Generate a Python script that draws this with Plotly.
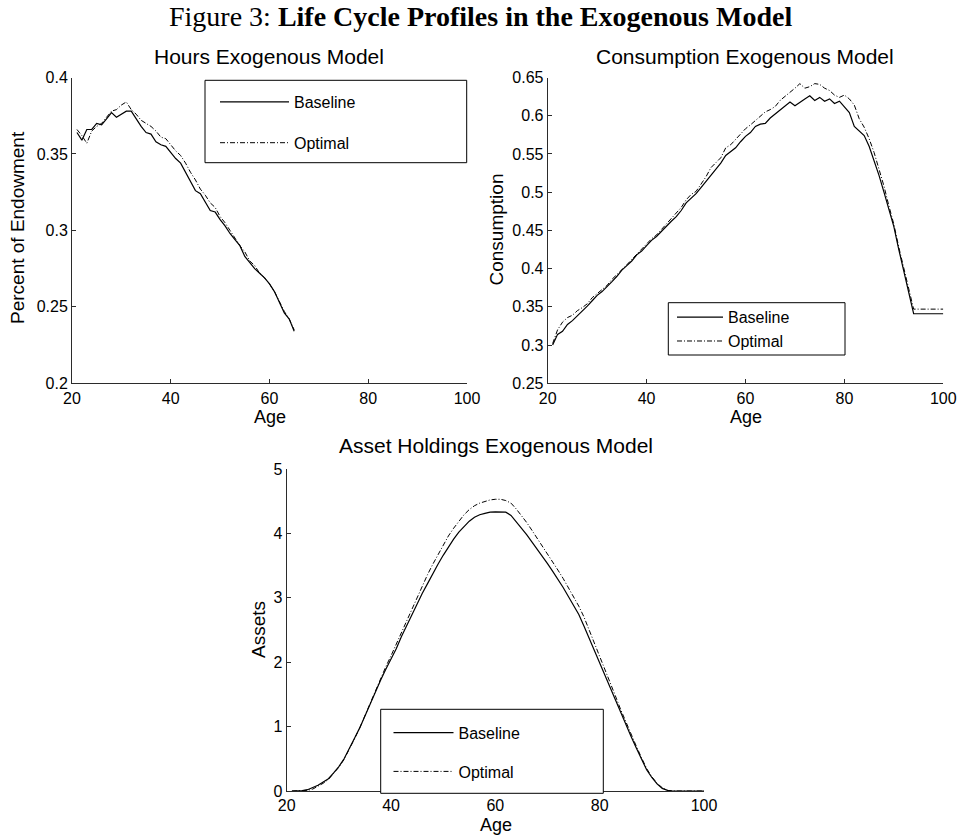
import plotly.graph_objects as go

# ---------------- data ----------------
hours_age = list(range(21, 66))
hours_baseline = [0.364, 0.359, 0.366, 0.366, 0.370, 0.369, 0.373, 0.377, 0.374, 0.376,
                  0.378, 0.378, 0.373, 0.368, 0.364, 0.363, 0.358, 0.356, 0.355, 0.351,
                  0.347, 0.344, 0.338, 0.331, 0.326, 0.324, 0.318, 0.313, 0.312, 0.307,
                  0.303, 0.298, 0.294, 0.290, 0.283, 0.279, 0.275, 0.272, 0.269, 0.265,
                  0.260, 0.253, 0.246, 0.242, 0.234]
hours_optimal = [0.366, 0.362, 0.357, 0.365, 0.368, 0.370, 0.374, 0.378, 0.379, 0.382,
                 0.384, 0.379, 0.376, 0.372, 0.370, 0.368, 0.365, 0.361, 0.360, 0.356,
                 0.352, 0.349, 0.344, 0.338, 0.333, 0.327, 0.323, 0.318, 0.315, 0.309,
                 0.305, 0.300, 0.295, 0.290, 0.286, 0.280, 0.277, 0.272, 0.269, 0.265,
                 0.260, 0.253, 0.247, 0.242, 0.235]

life_age = list(range(21, 101))
cons_baseline = [0.300, 0.314, 0.318, 0.327, 0.332, 0.338, 0.344, 0.351, 0.358, 0.365,
                 0.370, 0.376, 0.383, 0.390, 0.398, 0.404, 0.410, 0.418, 0.423, 0.430,
                 0.437, 0.442, 0.449, 0.456, 0.462, 0.468, 0.476, 0.486, 0.492, 0.498,
                 0.506, 0.514, 0.522, 0.530, 0.538, 0.548, 0.553, 0.558, 0.566, 0.573,
                 0.578, 0.586, 0.589, 0.590, 0.597, 0.602, 0.608, 0.613, 0.618, 0.613,
                 0.618, 0.622, 0.626, 0.620, 0.624, 0.619, 0.622, 0.616, 0.619, 0.612,
                 0.604, 0.586, 0.580, 0.574, 0.560, 0.542, 0.522, 0.500, 0.476, 0.455,
                 0.425, 0.398, 0.372, 0.341, 0.341, 0.341, 0.341, 0.341, 0.341, 0.341]
cons_optimal = [0.302, 0.320, 0.330, 0.336, 0.339, 0.345, 0.349, 0.354, 0.362, 0.367,
                0.372, 0.378, 0.386, 0.392, 0.399, 0.405, 0.412, 0.419, 0.425, 0.432,
                0.439, 0.444, 0.451, 0.458, 0.465, 0.472, 0.480, 0.490, 0.497, 0.501,
                0.511, 0.520, 0.532, 0.538, 0.545, 0.558, 0.562, 0.569, 0.576, 0.583,
                0.588, 0.594, 0.600, 0.605, 0.608, 0.612, 0.620, 0.625, 0.630, 0.636,
                0.642, 0.636, 0.638, 0.642, 0.641, 0.636, 0.633, 0.627, 0.624, 0.627,
                0.622, 0.614, 0.596, 0.585, 0.570, 0.552, 0.530, 0.508, 0.482, 0.458,
                0.428, 0.400, 0.373, 0.347, 0.347, 0.347, 0.347, 0.347, 0.347, 0.347]

assets_baseline = [0.0, 0.0, 0.005, 0.02, 0.05, 0.09, 0.14, 0.19, 0.28, 0.38,
                   0.50, 0.65, 0.82, 0.98, 1.17, 1.36, 1.54, 1.72, 1.89, 2.05,
                   2.21, 2.40, 2.57, 2.73, 2.90, 3.07, 3.22, 3.38, 3.52, 3.66,
                   3.79, 3.91, 4.02, 4.11, 4.19, 4.25, 4.29, 4.31, 4.33, 4.335,
                   4.337, 4.33, 4.28, 4.18, 4.09, 3.98, 3.87, 3.76, 3.65, 3.53,
                   3.41, 3.29, 3.16, 3.02, 2.88, 2.74, 2.56, 2.37, 2.18, 2.00,
                   1.80, 1.60, 1.41, 1.21, 1.02, 0.85, 0.67, 0.50, 0.33, 0.21,
                   0.11, 0.04, 0.01, 0.0, 0.0, 0.0, 0.0, 0.0, 0.0, 0.0]
assets_optimal = [0.0, 0.0, 0.0, 0.01, 0.03, 0.07, 0.12, 0.18, 0.27, 0.37,
                  0.49, 0.64, 0.81, 0.98, 1.17, 1.37, 1.56, 1.75, 1.93, 2.10,
                  2.28, 2.47, 2.66, 2.84, 3.02, 3.20, 3.36, 3.52, 3.67, 3.82,
                  3.96, 4.08, 4.19, 4.29, 4.37, 4.43, 4.47, 4.50, 4.52, 4.53,
                  4.53, 4.51, 4.47, 4.38, 4.28, 4.17, 4.05, 3.93, 3.81, 3.69,
                  3.56, 3.43, 3.30, 3.16, 3.01, 2.87, 2.70, 2.50, 2.30, 2.11,
                  1.90, 1.69, 1.48, 1.27, 1.07, 0.88, 0.70, 0.52, 0.35, 0.22,
                  0.12, 0.05, 0.01, 0.0, 0.0, 0.0, 0.0, 0.0, 0.0, 0.0]

age_ticks = [20, 40, 60, 80, 100]
age_tick_labels = ["20", "40", "60", "80", "100"]
hours_ticks = [0.2, 0.25, 0.3, 0.35, 0.4]
hours_tick_labels = ["0.2", "0.25", "0.3", "0.35", "0.4"]
cons_ticks = [0.25, 0.3, 0.35, 0.4, 0.45, 0.5, 0.55, 0.6, 0.65]
cons_tick_labels = ["0.25", "0.3", "0.35", "0.4", "0.45", "0.5", "0.55", "0.6", "0.65"]
asset_ticks = [0, 1, 2, 3, 4, 5]
asset_tick_labels = ["0", "1", "2", "3", "4", "5"]

# ---------------- layout helpers ----------------
W, H = 959, 836
SANS = "Liberation Sans, Arial, sans-serif"
AX = "#2b2b2b"


def px(x):
    return x / W


def py(y):
    return 1 - y / H


DASHDOT = "5px,2px,1px,2px"

fig = go.Figure()

panels = [
    ("x", "y", hours_age, hours_baseline, hours_optimal, "legend"),
    ("x2", "y2", life_age, cons_baseline, cons_optimal, "legend2"),
    ("x3", "y3", life_age, assets_baseline, assets_optimal, "legend3"),
]
for xa, ya, ages, base, opt, leg in panels:
    fig.add_trace(go.Scatter(x=ages, y=base, mode="lines", name="Baseline",
                             line=dict(color="black", width=1.2),
                             xaxis=xa, yaxis=ya, legend=leg, legendgroup=leg + "a"))
    fig.add_trace(go.Scatter(x=ages, y=opt, mode="lines", name="Optimal",
                             line=dict(color="black", width=1.0, dash=DASHDOT),
                             xaxis=xa, yaxis=ya, legend=leg, legendgroup=leg + "b"))

axis_common = dict(showline=True, linecolor=AX, linewidth=1, ticks="inside",
                   ticklen=4, tickcolor=AX, showgrid=False, zeroline=False,
                   mirror=False, automargin=False,
                   tickfont=dict(family=SANS, size=16, color="black"))

layout = dict(
    template="none",
    width=W, height=H, margin=dict(l=0, r=0, t=0, b=0, pad=0),
    paper_bgcolor="white", plot_bgcolor="white",
    xaxis=dict(domain=[px(72), px(467)], range=[20, 100], anchor="y",
               tickvals=age_ticks, ticktext=age_tick_labels, **axis_common),
    yaxis=dict(domain=[py(383.3), py(77.5)], range=[0.2, 0.4], anchor="x",
               tickvals=hours_ticks, ticktext=hours_tick_labels, **axis_common),
    xaxis2=dict(domain=[px(547.7), px(943.3)], range=[20, 100], anchor="y2",
                tickvals=age_ticks, ticktext=age_tick_labels, **axis_common),
    yaxis2=dict(domain=[py(383.3), py(77.5)], range=[0.25, 0.65], anchor="x2",
                tickvals=cons_ticks, ticktext=cons_tick_labels, **axis_common),
    xaxis3=dict(domain=[px(286.7), px(704)], range=[20, 100], anchor="y3",
                tickvals=age_ticks, ticktext=age_tick_labels, **axis_common),
    yaxis3=dict(domain=[py(791), py(469)], range=[0, 5], anchor="x3",
                tickvals=asset_ticks, ticktext=asset_tick_labels, **axis_common),
    showlegend=True,
)

legend_common = dict(bgcolor="rgba(0,0,0,0)", borderwidth=0,
                     font=dict(family=SANS, size=16, color="black"),
                     xanchor="left", yanchor="top", orientation="v")
layout["legend"] = dict(x=px(215), y=py(85), itemwidth=69, tracegroupgap=17, **legend_common)
layout["legend2"] = dict(x=px(672), y=py(300.3), itemwidth=46, tracegroupgap=0, **legend_common)
layout["legend3"] = dict(x=px(388.5), y=py(715.7), itemwidth=60, tracegroupgap=15, **legend_common)

fig.update_layout(**layout)

# legend boxes
for x0, y0, x1, y1 in [(205, 80.3, 466.7, 162.7), (668.3, 302.7, 845, 355),
                       (380.7, 709.3, 603.3, 793.3)]:
    fig.add_shape(type="rect", xref="paper", yref="paper",
                  x0=px(x0), x1=px(x1), y0=py(y1), y1=py(y0),
                  line=dict(color="black", width=1), fillcolor="white", layer="above")

# figure title (anchored at the top edge so it is not clipped)
fig.add_annotation(text="Figure 3: <b>Life Cycle Profiles in the Exogenous Model</b>",
                   x=px(480), y=1, xref="paper", yref="paper",
                   xanchor="center", yanchor="top", showarrow=False, borderpad=0,
                   font=dict(family="Liberation Serif, Times New Roman, serif",
                             size=28, color="black"))

annots = [
    ("Hours Exogenous Model", 269, 57, 21, 0),
    ("Consumption Exogenous Model", 745, 56, 21, 0),
    ("Asset Holdings Exogenous Model", 495.5, 446, 21, 0),
    ("Age", 269.5, 417, 18, 0),
    ("Age", 745.5, 417, 18, 0),
    ("Age", 495.5, 824.5, 18, 0),
    ("Percent of Endowment", 18, 228, 19, -90),
    ("Consumption", 495.5, 230, 19, -90),
    ("Assets", 258, 630, 19, -90),
]
for text, x, y, size, ang in annots:
    fig.add_annotation(text=text, x=px(x), y=py(y), xref="paper", yref="paper",
                       xanchor="center", yanchor="middle", showarrow=False,
                       borderpad=0, textangle=ang,
                       font=dict(family=SANS, size=size, color="black"))

fig.write_html("out.html", config={"displayModeBar": False},
               post_script="document.body.style.margin='0';document.body.style.padding='0';")
